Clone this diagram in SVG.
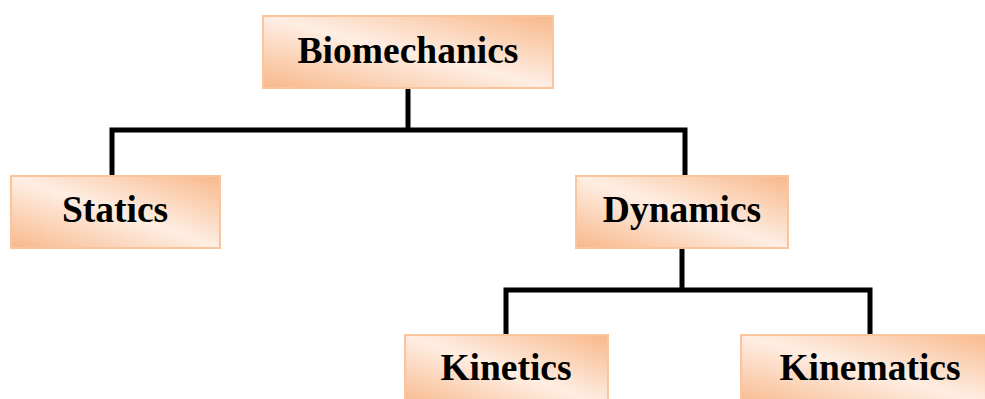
<svg xmlns="http://www.w3.org/2000/svg" width="985" height="399" viewBox="0 0 985 399">
<defs>
<linearGradient id="g" x1="0" y1="1" x2="1" y2="0">
<stop offset="0" stop-color="#f8b88a"/>
<stop offset="0.5" stop-color="#feeee3"/>
<stop offset="1" stop-color="#f8b88a"/>
</linearGradient>
<style>
.box{fill:url(#g);stroke:#f9c59f;stroke-width:2}
.lbl{font-family:"Liberation Serif","Times New Roman",serif;font-weight:bold;font-size:37.5px;fill:#000;text-anchor:middle}
.ln{fill:none;stroke:#000;stroke-width:5;stroke-linecap:butt;stroke-linejoin:miter}
</style>
</defs>
<rect width="985" height="399" fill="#fff"/>
<g id="connectors">
<path class="ln" d="M408 88V130M112 175V130H685V175"/>
<path class="ln" d="M682 248V290M506 334V290H870V334"/>
</g>
<g id="biomechanics">
<rect class="box" x="263" y="16" width="290" height="72"/>
<text class="lbl" x="408" y="63">Biomechanics</text>
</g>
<g id="statics">
<rect class="box" x="11" y="176" width="209" height="72"/>
<text class="lbl" x="115" y="222">Statics</text>
</g>
<g id="dynamics">
<rect class="box" x="576" y="176" width="212" height="72"/>
<text class="lbl" x="682" y="222">Dynamics</text>
</g>
<g id="kinetics">
<rect class="box" x="405" y="335" width="203" height="72"/>
<text class="lbl" x="506" y="380">Kinetics</text>
</g>
<g id="kinematics">
<rect class="box" x="741" y="335" width="258" height="72"/>
<text class="lbl" x="870" y="380">Kinematics</text>
</g>
</svg>
